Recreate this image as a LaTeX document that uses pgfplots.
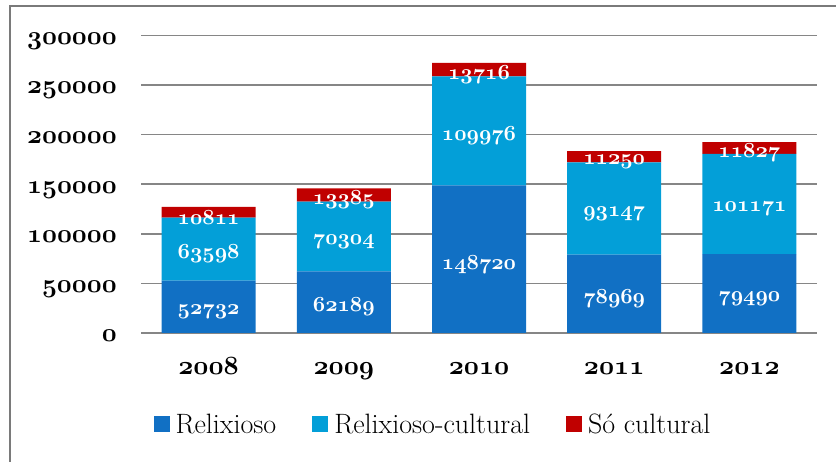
\documentclass[border=0pt]{standalone}
\usepackage{pgfplots}
\pgfplotsset{compat=1.18}
\definecolor{cA}{HTML}{1170C4}
\definecolor{cB}{HTML}{039FD8}
\definecolor{cC}{HTML}{C00000}
\definecolor{gridc}{HTML}{868686}
\definecolor{framec}{HTML}{7A7A7A}
\DeclareFontFamily{OML}{mycmm}{\skewchar\font'177}
\DeclareFontShape{OML}{mycmm}{b}{it}{<->cmmib10}{}
\newcommand\osn[1]{{\fontencoding{OML}\fontfamily{mycmm}\fontseries{b}\fontshape{it}\selectfont #1}}
\pgfplotsset{myax/.style={
  scale only axis, width=676pt, height=297.6pt,
  at={(141pt,129pt)}, anchor=south west,
  xmin=-0.5, xmax=4.5, ymin=0, ymax=300000},
  sqlegend/.style={legend image code/.code={\fill[##1] (0pt,-8pt) rectangle (16pt,8pt);}}}
\begin{document}
\begin{tikzpicture}[x=1pt,y=1pt]
\path[use as bounding box] (0,0) rectangle (836,462);
\draw[framec, line width=2pt] (10,0) -- (10,456) -- (837,456);
\begin{axis}[myax, ybar stacked, bar width=94pt,
  ymajorgrids, grid style={gridc, line width=1.5pt},
  axis line style={draw=none}, major tick length=0pt,
  xtick={0,1,2,3,4},
  xticklabels={\osn{2008},\osn{2009},\osn{2010},\osn{2011},\osn{2012}},
  xticklabel style={font=\fontsize{26.3}{26.3}\selectfont, inner sep=0pt, anchor=base, yshift=-42pt},
  ytick={0,50000,100000,150000,200000,250000,300000},
  yticklabels={\osn{0},\osn{50000},\osn{100000},\osn{150000},\osn{200000},\osn{250000},\osn{300000}},
  yticklabel style={font=\fontsize{26}{26}\selectfont, inner sep=0pt, anchor=base east, xshift=-24pt, yshift=-9pt},
  scaled y ticks=false,
  legend style={at={(0.4305,-0.306)}, anchor=center, draw=none, fill=none,
    font=\fontsize{28}{28}\selectfont, nodes={inner sep=0pt},
    /tikz/every even column/.append style={column sep=36pt},
    /tikz/every odd column/.append style={column sep=6pt}},
  legend columns=3,
  legend cell align=left,
]
\addplot[fill=cA, draw=none, sqlegend]
  coordinates {(0,52732) (1,62189) (2,148720) (3,78969) (4,79490)};
\addplot[fill=cB, draw=none, sqlegend]
  coordinates {(0,63598) (1,70304) (2,109976) (3,93147) (4,101171)};
\addplot[fill=cC, draw=none, sqlegend]
  coordinates {(0,10811) (1,13385) (2,13716) (3,11250) (4,11827)};
\legend{Relixioso, Relixioso-cultural, Só cultural}
\end{axis}
\begin{axis}[myax, hide axis, clip=false,
  nodes near coords={\osn{\pgfplotspointmeta}}, point meta=explicit symbolic,
  every node near coord/.append style={anchor=center, text=white, inner sep=0pt,
    font=\fontsize{21.5}{21.5}\selectfont, yshift=-5pt}]
\addplot[draw=none, mark=none] coordinates {(0,26366)[52732] (1,31094.5)[62189] (2,74360)[148720] (3,39484.5)[78969] (4,39745)[79490]};
\addplot[draw=none, mark=none] coordinates {(0,84531)[63598] (1,97341)[70304] (2,203708)[109976] (3,125542.5)[93147] (4,130075.5)[101171]};
\addplot[draw=none, mark=none] coordinates {(0,121735.5)[10811] (1,139185.5)[13385] (2,265554)[13716] (3,177741)[11250] (4,186574.5)[11827]};
\end{axis}
\end{tikzpicture}
\end{document}
